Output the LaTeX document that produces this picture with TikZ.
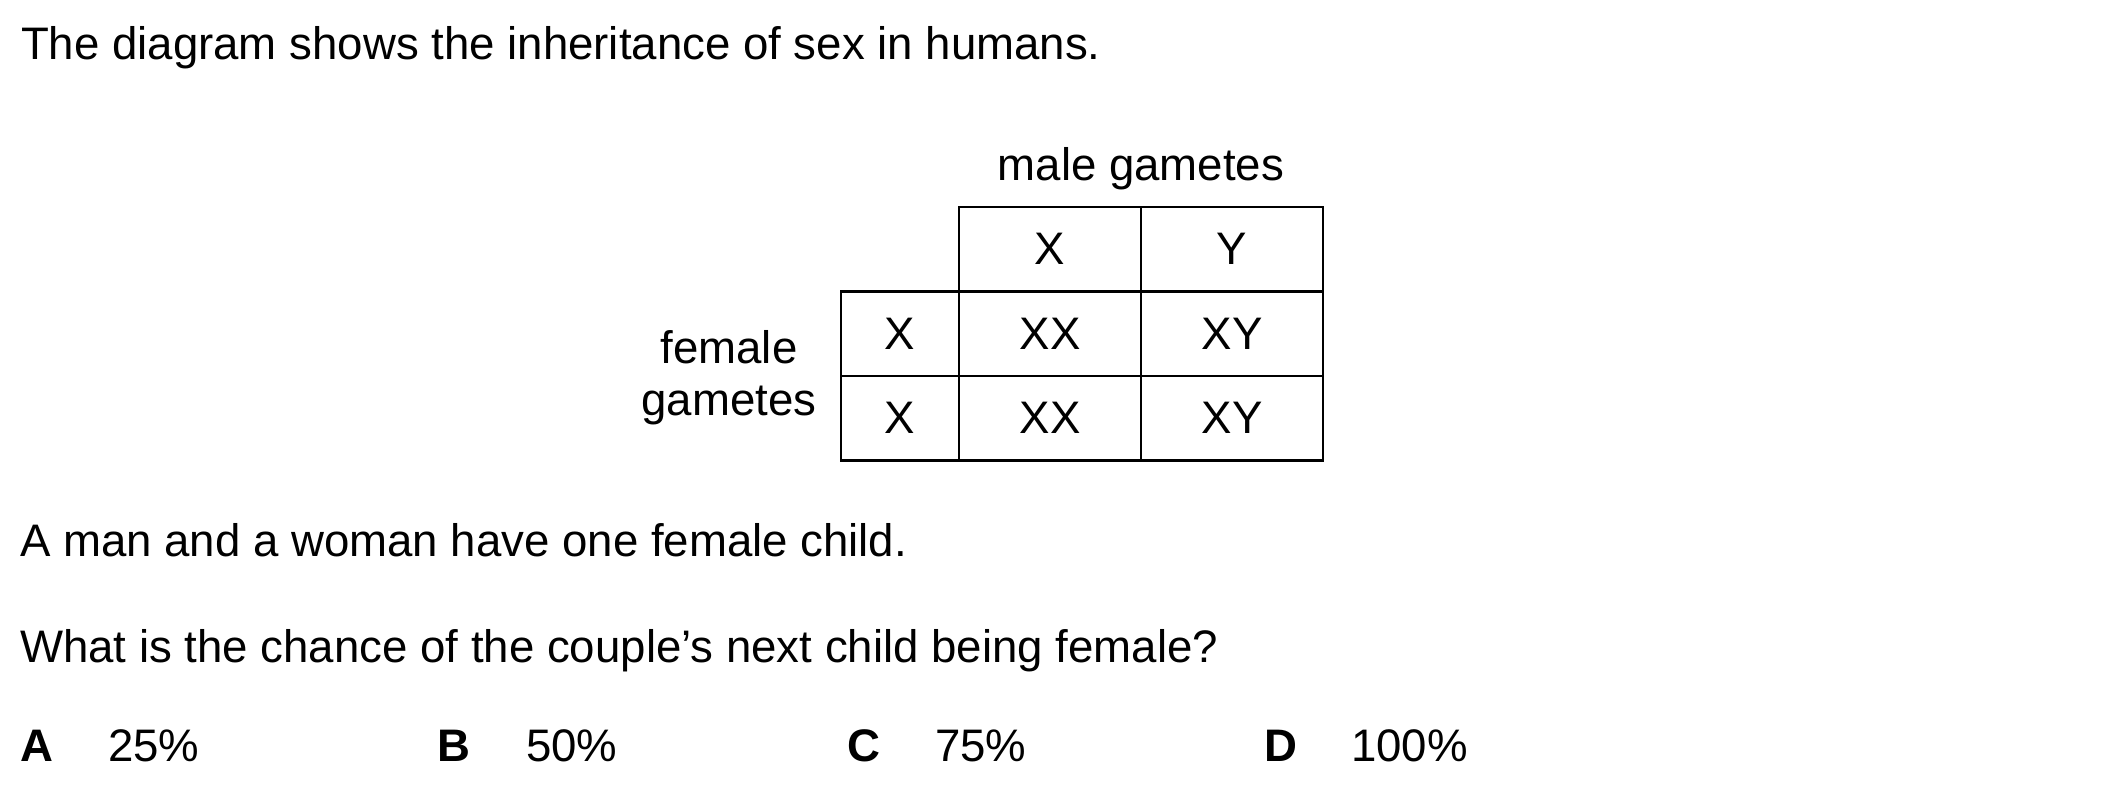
\documentclass[tikz,border=0pt]{standalone}
\usepackage{fontspec}
\setmainfont{Liberation Sans}
\begin{document}
\begin{tikzpicture}[x=0.5pt,y=-0.5pt,
  every node/.style={inner sep=0pt, outer sep=0pt, font=\fontsize{22.8pt}{26pt}\selectfont},
  txt/.style={anchor=base west},
  cell/.style={draw=black, line width=1.25pt, rectangle, minimum height=42.25pt},
  narrow/.style={cell, minimum width=59pt},
  wide/.style={cell, minimum width=91pt},
  letter/.style={anchor=base west, font=\fontsize{22.8pt}{26pt}\selectfont\bfseries}]
\useasboundingbox (0,0) rectangle (2101,787);

\node[txt] (intro) at (21,59.5) {The diagram shows the inheritance of sex in humans.};

% header
\node[anchor=base] (male) at (1141,180) {male gametes};
\node[anchor=base] (female1) at (729,363) {female};
\node[anchor=base] (female2) at (729,415) {gametes};

% grid
\node[wide] (mX) at (1050,249) {X};
\node[wide] (mY) at (1232,249) {Y};
\node[narrow] (f1) at (900,333.5) {X};
\node[wide] (c11) at (1050,333.5) {XX};
\node[wide] (c12) at (1232,333.5) {XY};
\node[narrow] (f2) at (900,418) {X};
\node[wide] (c21) at (1050,418) {XX};
\node[wide] (c22) at (1232,418) {XY};

\node[txt] (q1) at (20,556) {A man and a woman have one female child.};
\node[txt] (q2) at (20,662) {What is the chance of the couple’s next child being female?};

\node[letter] (A) at (20,761) {A};
\node[txt] (a) at (108,761) {25\%};
\node[letter] (B) at (437,761) {B};
\node[txt] (b) at (526,761) {50\%};
\node[letter] (C) at (847,761) {C};
\node[txt] (c) at (935,761) {75\%};
\node[letter] (D) at (1264,761) {D};
\node[txt] (d) at (1351,761) {100\%};
\end{tikzpicture}
\end{document}
